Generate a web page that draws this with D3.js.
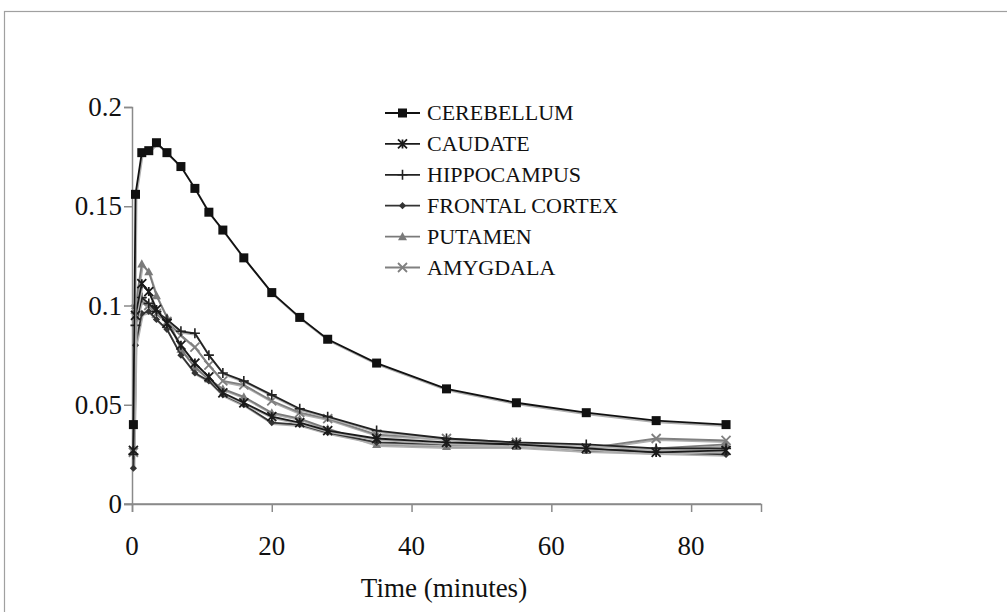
<!DOCTYPE html>
<html><head><meta charset="utf-8">
<script src="https://cdn.jsdelivr.net/npm/d3@7"></script>
<style>
html,body{margin:0;padding:0;background:#fff;}
svg{display:block;}
text{font-family:"Liberation Serif","Times New Roman",serif;fill:#111;}
</style></head>
<body>
<svg id="chart" width="1007" height="612"></svg>
<script>
// ---- data ----
const times = [0.2, 0.5, 1.4, 2.4, 3.5, 5, 7, 9, 11, 13, 16, 20, 24, 28, 35, 45, 55, 65, 75, 85];
const seriesNames = ["CEREBELLUM", "CAUDATE", "HIPPOCAMPUS", "FRONTAL CORTEX", "PUTAMEN", "AMYGDALA"];
const cerebellum   = [0.040, 0.156, 0.177, 0.178, 0.182, 0.177, 0.170, 0.159, 0.147, 0.138, 0.124, 0.1065, 0.094, 0.083, 0.071, 0.058, 0.051, 0.046, 0.042, 0.040];
const caudate      = [0.027, 0.095, 0.111, 0.107, 0.098, 0.091, 0.080, 0.071, 0.064, 0.056, 0.051, 0.044, 0.041, 0.037, 0.033, 0.031, 0.030, 0.028, 0.026, 0.027];
const hippocampus  = [0.025, 0.090, 0.104, 0.101, 0.097, 0.093, 0.087, 0.086, 0.075, 0.066, 0.062, 0.055, 0.048, 0.044, 0.037, 0.033, 0.031, 0.030, 0.028, 0.028];
const frontal      = [0.018, 0.080, 0.096, 0.097, 0.093, 0.088, 0.075, 0.066, 0.062, 0.055, 0.050, 0.041, 0.040, 0.036, 0.031, 0.030, 0.030, 0.027, 0.026, 0.025];
const putamen      = [0.027, 0.100, 0.121, 0.117, 0.105, 0.094, 0.078, 0.069, 0.063, 0.058, 0.054, 0.046, 0.043, 0.038, 0.030, 0.029, 0.029, 0.027, 0.028, 0.030];
const amygdala     = [0.026, 0.098, 0.102, 0.100, 0.096, 0.092, 0.085, 0.079, 0.070, 0.062, 0.060, 0.052, 0.046, 0.043, 0.035, 0.033, 0.031, 0.028, 0.033, 0.032];
const xTicks = [0, 20, 40, 60, 80];
const yTicks = [0, 0.05, 0.1, 0.15, 0.2];
const yTickLabels = ["0", "0.05", "0.1", "0.15", "0.2"];
const xTitle = "Time (minutes)";

const seriesValues = [cerebellum, caudate, hippocampus, frontal, putamen, amygdala];
const seriesColors = ["#111", "#1a1a1a", "#222", "#333", "#7a7a7a", "#808080"];
const seriesMarkers = ["square", "asterisk", "plus", "diamond", "triangle", "cross"];

// ---- layout ----
const svg = d3.select("#chart");
const x = d3.scaleLinear().domain([0, 90]).range([132, 761]);
const y = d3.scaleLinear().domain([0, 0.2]).range([504, 107]);

// outer frame
svg.append("rect").attr("x", 4.5).attr("y", 11.5).attr("width", 1010).attr("height", 610)
  .attr("fill", "none").attr("stroke", "#a0a0a0").attr("stroke-width", 1.2);

// axes
const axisColor = "#8a8a8a";
const xAxis = svg.append("g").attr("transform", `translate(0,${y(0)})`)
  .call(d3.axisBottom(x).tickValues(xTicks).tickSize(8).tickFormat(""));
const yAxis = svg.append("g").attr("transform", `translate(${x(0)},0)`)
  .call(d3.axisLeft(y).tickValues(yTicks).tickSize(8).tickFormat(""));
[xAxis, yAxis].forEach(g => {
  g.select(".domain").attr("stroke", axisColor).attr("stroke-width", 1.5);
  g.selectAll(".tick line").attr("stroke", axisColor).attr("stroke-width", 1.5);
});
svg.append("line").attr("x1", x(0) - 8).attr("x2", x(90)).attr("y1", y(0)).attr("y2", y(0))
  .attr("stroke", axisColor).attr("stroke-width", 1.5);

svg.append("g").selectAll("text").data(xTicks).join("text")
  .attr("x", d => x(d)).attr("y", 555).attr("text-anchor", "middle")
  .attr("font-size", 27).text(d => d);
svg.append("g").selectAll("text").data(yTicks).join("text")
  .attr("x", 122).attr("y", d => y(d) + 9).attr("text-anchor", "end")
  .attr("font-size", 27).text((d, i) => yTickLabels[i]);
svg.append("text").attr("x", 444).attr("y", 597).attr("text-anchor", "middle")
  .attr("font-size", 27).text(xTitle);

// marker drawing
function drawMarker(g, type, cx, cy, color) {
  if (type === "square") {
    g.append("rect").attr("x", cx - 4.5).attr("y", cy - 4.5).attr("width", 9).attr("height", 9).attr("fill", color);
  } else if (type === "asterisk") {
    const r = 4.5;
    g.append("path").attr("d", `M${cx-r},${cy-r}L${cx+r},${cy+r}M${cx-r},${cy+r}L${cx+r},${cy-r}M${cx},${cy-r}L${cx},${cy+r}`)
      .attr("stroke", color).attr("stroke-width", 1.8).attr("fill", "none");
  } else if (type === "plus") {
    const r = 5;
    g.append("path").attr("d", `M${cx},${cy-r}L${cx},${cy+r}M${cx-r},${cy}L${cx+r},${cy}`)
      .attr("stroke", color).attr("stroke-width", 1.6).attr("fill", "none");
  } else if (type === "diamond") {
    const r = 3.6;
    g.append("path").attr("d", `M${cx},${cy-r}L${cx+r},${cy}L${cx},${cy+r}L${cx-r},${cy}Z`).attr("fill", color);
  } else if (type === "triangle") {
    const r = 4.5;
    g.append("path").attr("d", `M${cx},${cy-r}L${cx+r},${cy+r*0.8}L${cx-r},${cy+r*0.8}Z`).attr("fill", color);
  } else if (type === "cross") {
    const r = 4.5;
    g.append("path").attr("d", `M${cx-r},${cy-r}L${cx+r},${cy+r}M${cx-r},${cy+r}L${cx+r},${cy-r}`)
      .attr("stroke", color).attr("stroke-width", 1.8).attr("fill", "none");
  }
}

const line = d3.line().x(d => x(d[0])).y(d => y(d[1]));
const plot = svg.append("g");
const order = [5, 4, 3, 2, 1, 0];
order.forEach(i => {
  const pts = times.map((t, j) => [t, seriesValues[i][j]]);
  const g = plot.append("g");
  g.append("path").datum(pts).attr("d", line).attr("fill", "none")
    .attr("stroke", "#b0b0b0").attr("stroke-width", 2).attr("transform", "translate(1,1.5)");
  g.append("path").datum(pts).attr("d", line).attr("fill", "none")
    .attr("stroke", seriesColors[i]).attr("stroke-width", 1.8);
  pts.forEach(p => drawMarker(g, seriesMarkers[i], x(p[0]), y(p[1]), seriesColors[i]));
});

// legend
const legend = svg.append("g");
seriesNames.forEach((name, i) => {
  const ly = 113 + i * 30.9;
  legend.append("line").attr("x1", 385).attr("x2", 420).attr("y1", ly).attr("y2", ly)
    .attr("stroke", seriesColors[i]).attr("stroke-width", 1.8);
  drawMarker(legend, seriesMarkers[i], 402.5, ly, seriesColors[i]);
  legend.append("text").attr("x", 427).attr("y", ly + 7).attr("font-size", 22).text(name);
});
</script>
</body></html>
